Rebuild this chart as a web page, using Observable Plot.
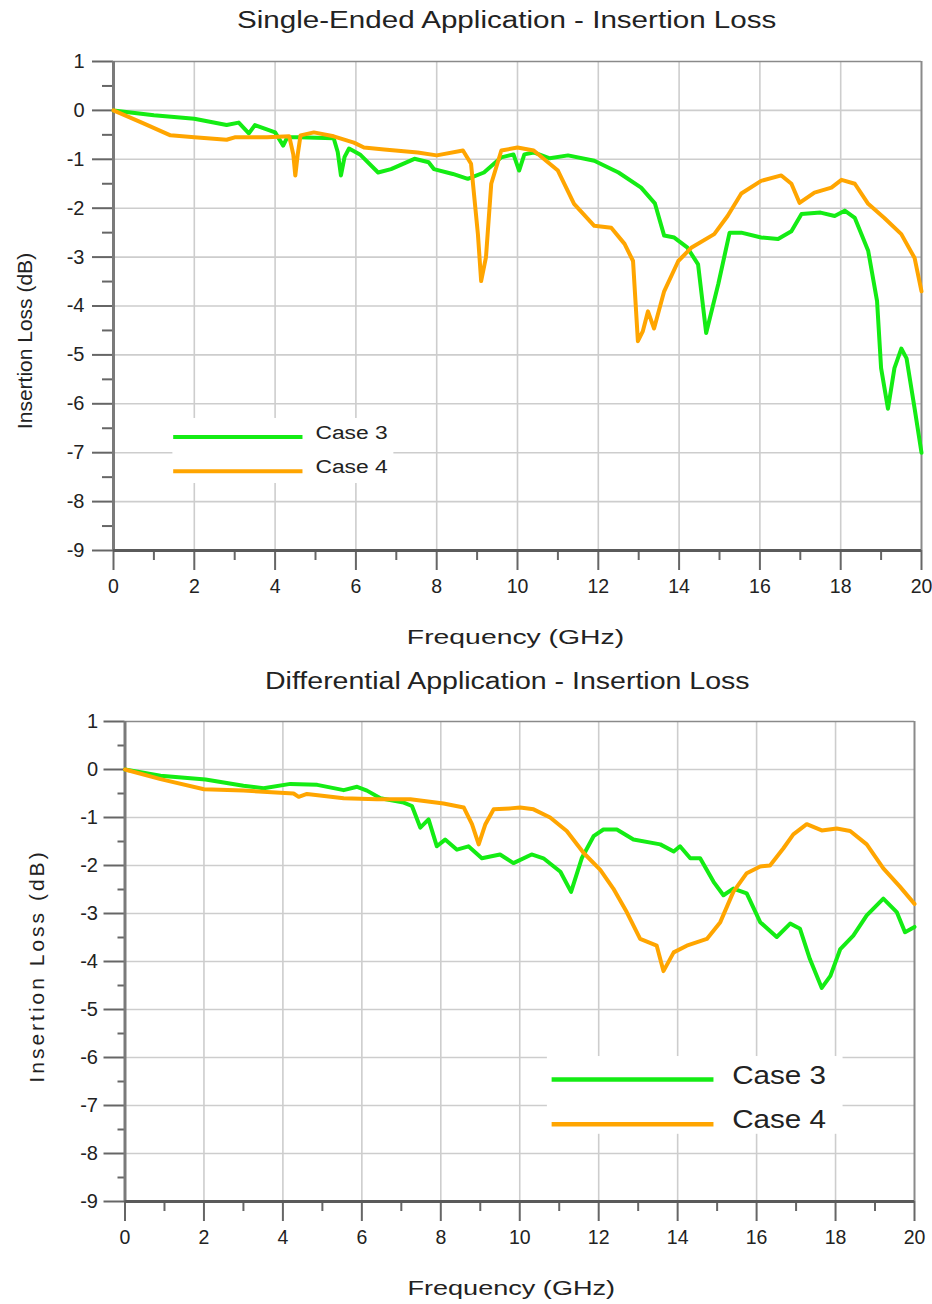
<!DOCTYPE html>
<html>
<head>
<meta charset="utf-8">
<script src="https://cdn.jsdelivr.net/npm/d3@7"></script>
<script src="https://cdn.jsdelivr.net/npm/@observablehq/plot@0.6"></script>
<style>
  html, body { margin: 0; padding: 0; background: #fff; }
  body { width: 932px; height: 1304px; overflow: hidden; font-family: "Liberation Sans", Arial, sans-serif; color: #222; }
  .title { position: relative; width: 932px; }
  .title span { position: absolute; white-space: nowrap; font-size: 23px; line-height: 23px; color: #222; transform-origin: left center; }
  svg { display: block; }
</style>
</head>
<body>
<div id="t1" class="title" style="height:40px"><span style="left:237px;top:9px;transform:scaleX(1.286)">Single-Ended Application - Insertion Loss</span></div>
<div id="c1"></div>
<div id="t2" class="title" style="height:45px"><span style="left:265px;top:10px;transform:scaleX(1.24)">Differential Application - Insertion Loss</span></div>
<div id="c2"></div>
<script>
// ---------- data (frequency GHz, insertion loss dB) ----------
const seriesNames = ["Case 3", "Case 4"];
const seriesColors = ["#14ec14", "#ffa500"];

const singleCase3 = [[0,0],[1,-0.1],[2,-0.17],[2.8,-0.3],[3.1,-0.25],[3.35,-0.47],[3.5,-0.3],[4.0,-0.45],[4.2,-0.72],[4.3,-0.55],[4.6,-0.55],[5.45,-0.57],[5.55,-0.85],[5.63,-1.33],[5.72,-0.95],[5.83,-0.78],[6.1,-0.9],[6.55,-1.27],[6.87,-1.2],[7.45,-0.99],[7.8,-1.06],[7.93,-1.2],[8.4,-1.3],[8.77,-1.4],[9.17,-1.27],[9.6,-0.96],[9.9,-0.9],[10.04,-1.23],[10.17,-0.9],[10.4,-0.86],[10.8,-0.98],[11.25,-0.92],[11.9,-1.03],[12.5,-1.27],[13.06,-1.58],[13.4,-1.9],[13.63,-2.56],[13.88,-2.6],[14.2,-2.8],[14.47,-3.15],[14.67,-4.55],[14.97,-3.55],[15.25,-2.5],[15.54,-2.5],[16.03,-2.6],[16.45,-2.63],[16.78,-2.47],[17.03,-2.12],[17.5,-2.09],[17.85,-2.16],[18.1,-2.05],[18.35,-2.2],[18.68,-2.87],[18.9,-3.9],[19.0,-5.27],[19.17,-6.1],[19.33,-5.27],[19.5,-4.87],[19.63,-5.07],[19.83,-6.1],[20,-7.0]];

const singleCase4 = [[0,0],[0.7,-0.25],[1.41,-0.51],[2.0,-0.55],[2.8,-0.6],[3.0,-0.55],[3.8,-0.55],[4.35,-0.53],[4.45,-0.9],[4.5,-1.33],[4.56,-0.9],[4.63,-0.51],[4.96,-0.45],[5.45,-0.53],[5.95,-0.66],[6.2,-0.76],[6.7,-0.8],[7.53,-0.86],[8.0,-0.92],[8.65,-0.82],[8.85,-1.09],[9.02,-2.53],[9.1,-3.49],[9.22,-3.0],[9.35,-1.5],[9.6,-0.82],[10.0,-0.76],[10.4,-0.82],[11.0,-1.23],[11.4,-1.91],[11.9,-2.36],[12.32,-2.4],[12.65,-2.73],[12.86,-3.08],[12.98,-4.72],[13.1,-4.52],[13.23,-4.11],[13.38,-4.46],[13.63,-3.7],[13.98,-3.08],[14.3,-2.81],[14.87,-2.53],[15.2,-2.16],[15.54,-1.7],[16.03,-1.44],[16.53,-1.33],[16.78,-1.5],[16.98,-1.89],[17.35,-1.68],[17.77,-1.58],[18.02,-1.42],[18.35,-1.5],[18.68,-1.91],[19.08,-2.2],[19.5,-2.53],[19.83,-3.02],[20,-3.7]];

const diffCase3 = [[0,0],[0.9,-0.13],[2.04,-0.21],[3.0,-0.34],[3.51,-0.39],[4.19,-0.3],[4.87,-0.32],[5.54,-0.43],[5.88,-0.36],[6.13,-0.44],[6.47,-0.6],[7.06,-0.69],[7.27,-0.76],[7.48,-1.21],[7.69,-1.04],[7.9,-1.6],[8.11,-1.46],[8.41,-1.67],[8.7,-1.6],[9.04,-1.85],[9.5,-1.77],[9.84,-1.95],[10.3,-1.77],[10.6,-1.85],[11.03,-2.13],[11.3,-2.55],[11.57,-1.85],[11.87,-1.39],[12.12,-1.25],[12.46,-1.25],[12.88,-1.46],[13.56,-1.56],[13.9,-1.71],[14.06,-1.6],[14.32,-1.85],[14.57,-1.85],[14.91,-2.34],[15.16,-2.62],[15.41,-2.48],[15.75,-2.58],[16.09,-3.18],[16.51,-3.49],[16.85,-3.21],[17.1,-3.32],[17.35,-3.95],[17.65,-4.55],[17.87,-4.3],[18.12,-3.74],[18.45,-3.46],[18.79,-3.04],[19.21,-2.69],[19.55,-2.97],[19.76,-3.39],[20,-3.28]];

const diffCase4 = [[0,0],[0.9,-0.2],[2.0,-0.41],[3.0,-0.44],[4.27,-0.5],[4.4,-0.57],[4.61,-0.51],[5.54,-0.6],[6.38,-0.62],[7.23,-0.62],[8.07,-0.71],[8.58,-0.79],[8.79,-1.14],[8.96,-1.56],[9.13,-1.14],[9.34,-0.83],[9.76,-0.81],[10.01,-0.79],[10.35,-0.83],[10.77,-1.0],[11.19,-1.28],[11.62,-1.74],[12.04,-2.09],[12.37,-2.48],[12.71,-2.97],[13.05,-3.53],[13.47,-3.67],[13.64,-4.2],[13.9,-3.81],[14.23,-3.67],[14.74,-3.53],[15.08,-3.18],[15.41,-2.55],[15.75,-2.16],[16.09,-2.02],[16.34,-2.0],[16.68,-1.64],[16.93,-1.35],[17.27,-1.14],[17.65,-1.27],[18.03,-1.23],[18.37,-1.28],[18.79,-1.56],[19.21,-2.06],[19.63,-2.44],[20,-2.8]];

const xMajorTicks = [0,2,4,6,8,10,12,14,16,18,20];
const xMinorTicks = [1,3,5,7,9,11,13,15,17,19];
const yMajorTicks = [1,0,-1,-2,-3,-4,-5,-6,-7,-8,-9];
const yMinorTicks = [0.5,-0.5,-1.5,-2.5,-3.5,-4.5,-5.5,-6.5,-7.5,-8.5];
const xGrid = [2,4,6,8,10,12,14,16,18];
const yGrid = [0,-1,-2,-3,-4,-5,-6,-7,-8];
const xLabel = "Frequency (GHz)";
const yLabel = "Insertion Loss (dB)";

// horizontal stretch of a rendered text about its centre (or left edge), in its own coordinates
function stretchText(t, s, anchorLeft) {
  const b = t.getBBox();
  const cx = anchorLeft ? b.x : b.x + b.width / 2;
  const tr = t.getAttribute("transform") || "";
  t.setAttribute("transform", `${tr} translate(${cx},0) scale(${s},1) translate(${-cx},0)`);
}

function makeChart(cfg) {
  const series = [cfg.s3, cfg.s4];
  const lg = cfg.legend;
  const items = seriesNames.map((n, i) => ({label: n, color: seriesColors[i], y: lg.rows[i], ty: lg.textRows[i]}));
  return Plot.plot({
    width: 932,
    height: cfg.height,
    marginLeft: cfg.ml, marginRight: cfg.mr, marginTop: cfg.mt, marginBottom: cfg.mb,
    x: {domain: [0, 20]},
    y: {domain: [-9, 1]},
    style: {fontFamily: "'Liberation Sans', Arial, sans-serif", background: "white", color: "#222"},
    marks: [
      Plot.ruleX(xGrid, {stroke: "#cdcdcd", strokeWidth: 1.6}),
      Plot.ruleY(yGrid, {stroke: "#cdcdcd", strokeWidth: 1.6}),
      Plot.rect([lg.box], {x1: "x1", x2: "x2", y1: "y1", y2: "y2", fill: "white"}),
      Plot.ruleY([1], {stroke: "#8a8a8a", strokeWidth: 1.5}),
      Plot.ruleX([20], {stroke: "#8a8a8a", strokeWidth: 2}),
      Plot.axisY(yMinorTicks, {tickSize: cfg.minorY, tickFormat: () => "", stroke: "#666", strokeWidth: 2, label: null}),
      Plot.axisY(yMajorTicks, {tickSize: 21, tickPadding: cfg.yPad, tickFormat: d => String(d), fontSize: 20, stroke: "#666", strokeWidth: 2, fill: "#222", label: null}),
      Plot.axisX(xMinorTicks, {tickSize: 10, tickFormat: () => "", stroke: "#666", strokeWidth: 2, label: null}),
      Plot.axisX(xMajorTicks, {tickSize: 20, tickPadding: cfg.xPad, tickFormat: d => String(d), fontSize: 19.5, stroke: "#666", strokeWidth: 2, fill: "#222", label: null}),
      Plot.ruleX([0], {stroke: "#7a7a7a", strokeWidth: 3}),
      Plot.ruleY([-9], {stroke: "#5a5a5a", strokeWidth: 3}),
      ...series.map((s, i) => Plot.line(s, {x: d => d[0], y: d => d[1], stroke: seriesColors[i], strokeWidth: cfg.sw, strokeLinejoin: "round", strokeLinecap: "round"})),
      Plot.ruleY(items, {y: "y", x1: () => lg.lx1, x2: () => lg.lx2, stroke: "color", strokeWidth: cfg.lw}),
      Plot.text(items, {x: () => lg.tx, y: "ty", text: "label", textAnchor: "start", lineAnchor: "middle", fontSize: lg.fs, fill: "#222"}),
      Plot.text([yLabel], {frameAnchor: "left", textAnchor: "middle", lineAnchor: "middle", dx: cfg.ylDx, dy: cfg.ylDy, rotate: -90, fontSize: 21, fill: "#222"}),
      Plot.text([xLabel], {frameAnchor: "bottom", textAnchor: "middle", lineAnchor: "middle", dx: cfg.xlDx, dy: cfg.xlDy, fontSize: 21, fill: "#222"})
    ]
  });
}

function finish(plot, cfg) {
  plot.querySelectorAll("text").forEach(t => {
    const s = t.textContent;
    if (s === xLabel) stretchText(t, cfg.xlScale, false);
    else if (s === yLabel) t.style.letterSpacing = cfg.ylSp + "px";
    else if (s.startsWith("Case")) stretchText(t, cfg.legend.scale, true);
  });
}

const cfg1 = {
  s3: singleCase3, s4: singleCase4,
  height: 620, ml: 113, mr: 11, mt: 21, mb: 110,
  minorY: 11, yPad: 8, xPad: 9, sw: 4, lw: 4,
  ylDx: -88, ylDy: 35, xlDx: -2, xlDy: 87, xlScale: 1.35, ylSp: 0,
  legend: {box: {x1: 1.47, x2: 6.94, y1: -6.3, y2: -7.63}, rows: [-6.68, -7.38], textRows: [-6.6, -7.3], lx1: 1.49, lx2: 4.69, tx: 5.0, fs: 19, scale: 1.2}
};
const cfg2 = {
  s3: diffCase3, s4: diffCase4,
  height: 599, ml: 124.5, mr: 18, mt: 16, mb: 103,
  minorY: 7, yPad: 6, xPad: 9, sw: 4, lw: 4.5,
  ylDx: -87.5, ylDy: 4.5, xlDx: -8.5, xlDy: 87, xlScale: 1.29, ylSp: 3,
  legend: {box: {x1: 10.7, x2: 18.19, y1: -5.98, y2: -7.6}, rows: [-6.46, -7.39], textRows: [-6.38, -7.3], lx1: 10.82, lx2: 14.92, tx: 15.38, fs: 26, scale: 1.14}
};
const p1 = makeChart(cfg1);
document.getElementById("c1").appendChild(p1);
finish(p1, cfg1);
const p2 = makeChart(cfg2);
document.getElementById("c2").appendChild(p2);
finish(p2, cfg2);
</script>
</body>
</html>
